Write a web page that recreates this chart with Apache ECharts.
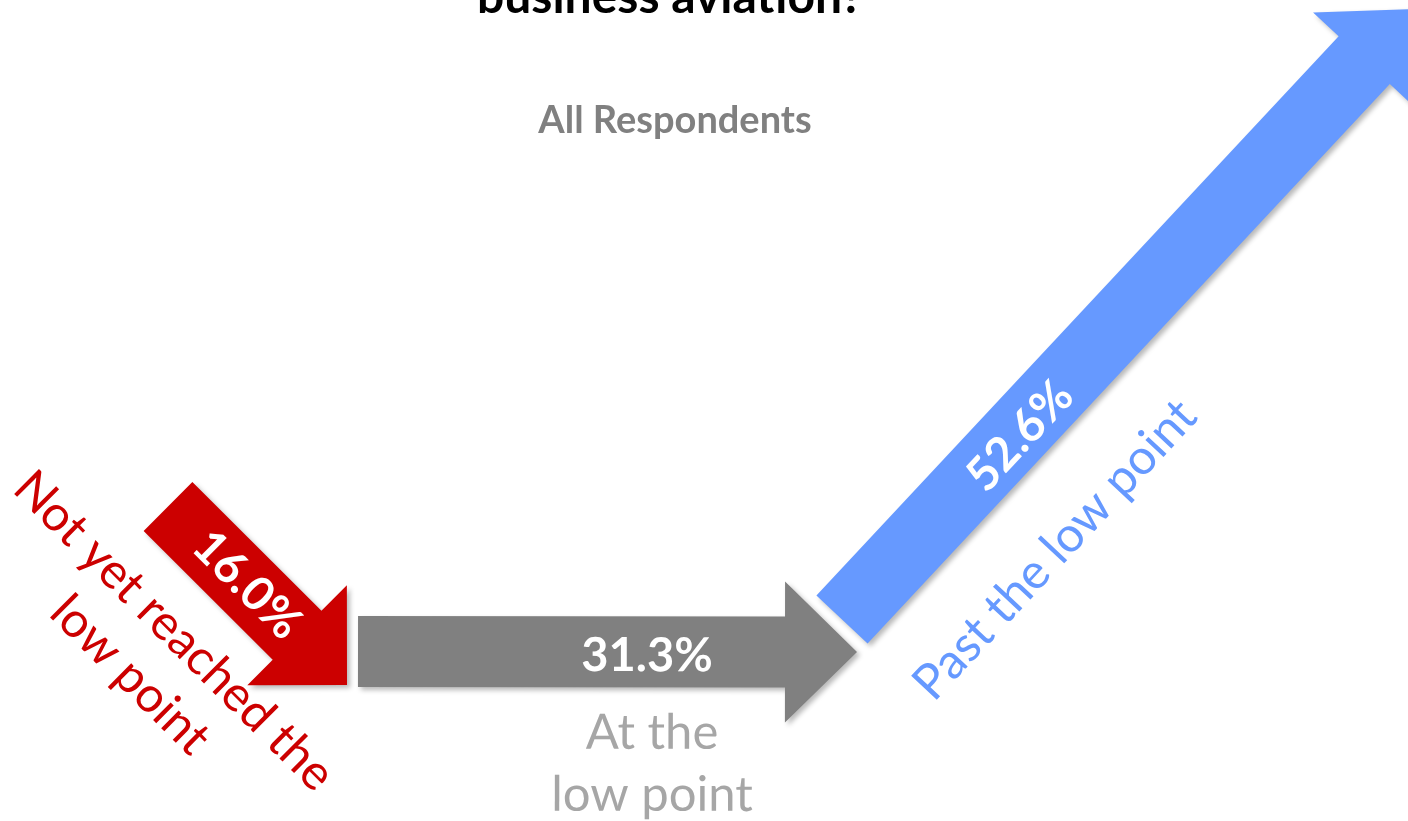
<!DOCTYPE html>
<html>
<head>
<meta charset="utf-8">
<script src="https://cdn.jsdelivr.net/npm/echarts@6/dist/echarts.min.js"></script>
<style>
html,body{margin:0;padding:0;background:#fff;}
#main{width:1408px;height:821px;}
</style>
</head>
<body>
<div id="main"></div>
<script>
// ---- data ----
const categories = ['Not yet reached the\nlow point', 'At the\nlow point', 'Past the low point'];
const values = [16.0, 31.3, 52.6];
const titleText = 'business aviation?';
const subtitleText = 'All Respondents';

// ---- styling / layout (pixel space of a hidden 1408x821 grid) ----
const colors = ['#CC0000', '#808080', '#6699FF'];
const labelColors = ['#CC0000', '#A6A6A6', '#6699FF'];
const arrowLayout = [
  { tail: [168, 506.5], tip: [347, 685], sw: 34.5, hw: 70.5, hl: 70.5, pct: [247, 585], cat: [152, 653] },
  { tail: [358, 651.5], tip: [857, 652], sw: 35.5, hw: 70.5, hl: 72, pct: [647, 656], cat: [652, 764] },
  { tail: [842, 619.5], tip: [1412, 9], sw: 35, hw: 70, hl: 70, pct: [1020, 436], cat: [1055, 550] }
];

const chart = echarts.init(document.getElementById('main'), null, { renderer: 'canvas' });

function renderArrow(params, api) {
  const i = api.value(0);
  const L = arrowLayout[i];
  const T = api.coord(L.tail), P = api.coord(L.tip);
  const dx = P[0] - T[0], dy = P[1] - T[1];
  const len = Math.hypot(dx, dy);
  const u = [dx / len, dy / len];
  const n = [-u[1], u[0]];
  const B = [P[0] - L.hl * u[0], P[1] - L.hl * u[1]];
  const pt = (base, k) => [base[0] + k * n[0], base[1] + k * n[1]];
  const points = [pt(T, L.sw), pt(B, L.sw), pt(B, L.hw), P, pt(B, -L.hw), pt(B, -L.sw), pt(T, -L.sw)];
  const rot = -Math.atan2(dy, dx);
  const pc = api.coord(L.pct), cc = api.coord(L.cat);
  const v = api.value(1);
  return {
    type: 'group',
    children: [
      {
        type: 'polygon',
        shape: { points: points },
        style: {
          fill: colors[i],
          shadowBlur: 5, shadowOffsetX: 3, shadowOffsetY: 3, shadowColor: 'rgba(0,0,0,0.28)'
        }
      },
      {
        type: 'text',
        x: pc[0], y: pc[1], rotation: rot,
        style: {
          text: v.toFixed(1) + '%',
          fill: '#ffffff',
          font: 'bold 47px Lato, "Open Sans", sans-serif',
          align: 'center', verticalAlign: 'middle'
        }
      },
      {
        type: 'text',
        x: cc[0], y: cc[1], rotation: rot,
        style: {
          text: categories[i],
          fill: labelColors[i],
          font: '49px Lato, "Open Sans", sans-serif',
          lineHeight: 62,
          align: 'center', verticalAlign: 'middle'
        }
      }
    ]
  };
}

const option = {
  backgroundColor: '#ffffff',
  animation: false,
  grid: { left: 0, right: 0, top: 0, bottom: 0 },
  xAxis: { type: 'value', min: 0, max: 1408, show: false },
  yAxis: { type: 'value', min: 0, max: 821, inverse: true, show: false },
  graphic: [
    {
      type: 'text', x: 670, y: -2,
      style: { text: titleText, fill: '#000000', font: 'bold 48px Lato, "Open Sans", sans-serif', align: 'center', verticalAlign: 'middle' }
    },
    {
      type: 'text', x: 675, y: 121,
      style: { text: subtitleText, fill: '#808080', font: 'bold 38px Lato, "Open Sans", sans-serif', align: 'center', verticalAlign: 'middle' }
    }
  ],
  series: [{
    type: 'custom',
    coordinateSystem: 'cartesian2d',
    clip: false,
    renderItem: renderArrow,
    data: values.map((v, i) => [i, v])
  }]
};
chart.setOption(option);
</script>
</body>
</html>
